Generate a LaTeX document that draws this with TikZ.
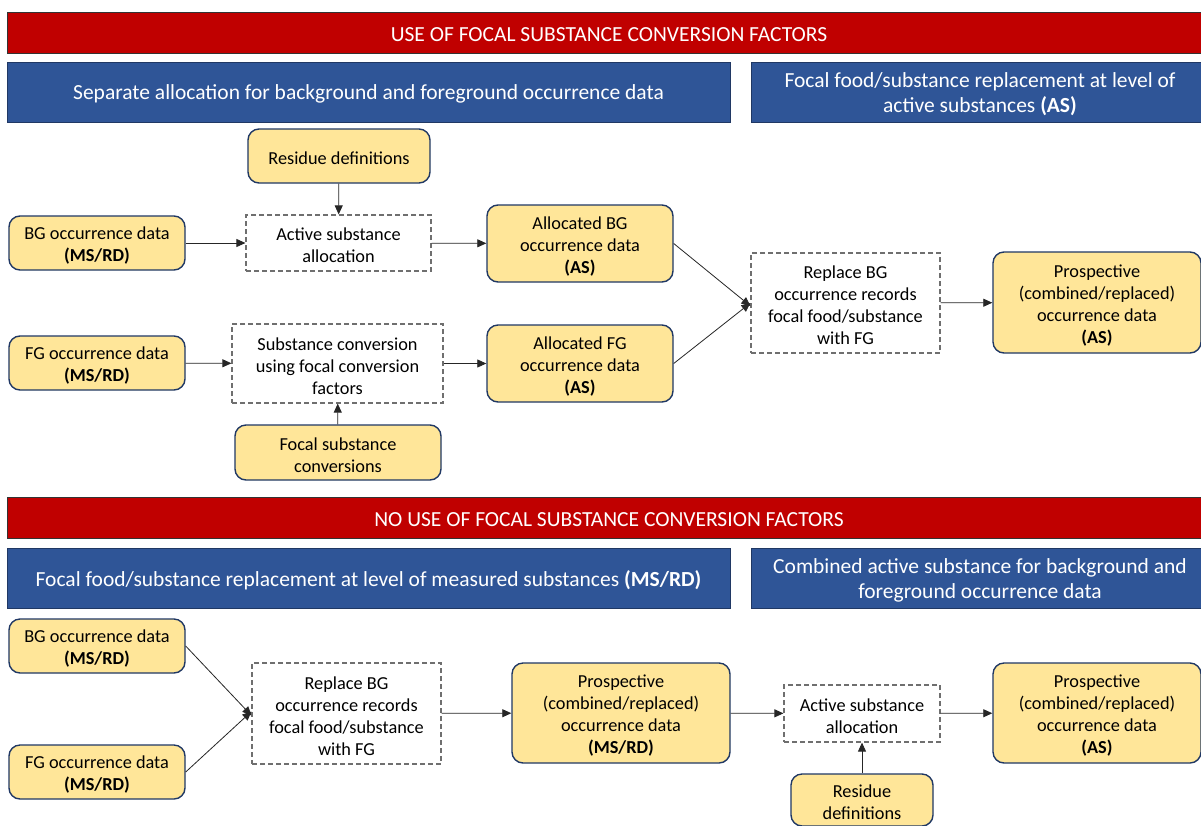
\documentclass[tikz,border=0pt]{standalone}
\usepackage{fontspec}
\setmainfont{Carlito}
\usetikzlibrary{arrows.meta}
\definecolor{barred}{HTML}{C00000}
\definecolor{barblue}{HTML}{2F5597}
\definecolor{boxfill}{HTML}{FFE699}
\definecolor{boxline}{HTML}{203864}
\definecolor{dashline}{HTML}{6F6F6F}
\definecolor{arrline}{HTML}{262626}
\newcommand{\fs}{\rule{0pt}{18pt}}
\newcommand{\hs}{\rule{0pt}{19.5pt}}
\begin{document}
\begin{tikzpicture}[x=1pt,y=-1pt,
  redbar/.style={draw=black!80,line width=0.8pt,fill=barred,text=white,inner sep=0pt,
    font=\fontsize{21.5}{25}\selectfont},
  bluebar/.style={draw=boxline,line width=0.8pt,fill=barblue,text=white,inner sep=0pt,align=center,
    font=\fontsize{21.5}{25}\selectfont},
  ybox/.style={draw=boxline,line width=1.4pt,fill=boxfill,rounded corners=11pt,align=center,inner sep=0pt,
    font=\fontsize{18.3}{22}\selectfont},
  dbox/.style={draw=dashline,line width=1.2pt,dash pattern=on 5pt off 3pt,fill=white,align=center,inner sep=0pt,
    font=\fontsize{18.3}{22}\selectfont},
  conn/.style={draw=arrline,line width=0.8pt,-{Triangle[length=9pt,width=8pt]}}
]
\useasboundingbox (0,0) rectangle (1201,825);
\fill[white] (0,0) rectangle (1201,825);

% ---------- top section ----------
\node[redbar,minimum width=1204pt,minimum height=41pt] (red1) at (609,32.5) {\fs USE OF FOCAL SUBSTANCE CONVERSION FACTORS};
\node[bluebar,minimum width=723pt,minimum height=60pt] (bl1) at (368.5,92) {\hs Separate allocation for background and foreground occurrence data};
\node[bluebar,minimum width=458pt,minimum height=60pt] (br1) at (980,92) {\hs Focal food/substance replacement at level of\\active substances \textbf{(AS)}};

\node[ybox,minimum width=182pt,minimum height=54pt] (res1) at (339,156) {\fs Residue definitions};
\node[ybox,minimum width=176pt,minimum height=54pt] (bg1) at (97,243) {\fs BG occurrence data\\\textbf{(MS/RD)}};
\node[dbox,minimum width=185pt,minimum height=56pt] (asa1) at (338.5,243) {\fs Active substance\\allocation};
\node[ybox,minimum width=186pt,minimum height=77pt] (abg) at (580,243.5) {\fs Allocated BG\\occurrence data\\\textbf{(AS)}};
\node[ybox,minimum width=176pt,minimum height=54pt] (fg1) at (97,363) {\fs FG occurrence data\\\textbf{(MS/RD)}};
\node[dbox,minimum width=211pt,minimum height=79pt] (sc) at (337.5,363.5) {\fs Substance conversion\\using focal conversion\\factors};
\node[ybox,minimum width=206pt,minimum height=55pt] (fsc) at (338,452.5) {\fs Focal substance\\conversions};
\node[ybox,minimum width=186pt,minimum height=77pt] (afg) at (580,363.5) {\fs Allocated FG\\occurrence data\\\textbf{(AS)}};
\node[dbox,minimum width=189pt,minimum height=100pt] (rep1) at (845.5,303) {\fs Replace BG\\occurrence records\\focal food/substance\\with FG};
\node[ybox,minimum width=208pt,minimum height=101pt] (pas1) at (1097,302.5) {\fs Prospective\\(combined/replaced)\\occurrence data\\\textbf{(AS)}};

\draw[conn] (res1) -- (asa1);
\draw[conn] (bg1) -- (asa1);
\draw[conn] (asa1) -- (abg);
\draw[conn] (fg1) -- (sc);
\draw[conn] (sc) -- (afg);
\draw[conn] (fsc) -- (sc);
\draw[conn] (abg.east) -- ([yshift=-3pt]rep1.west);
\draw[conn] (afg.east) -- ([yshift=0pt]rep1.west);
\draw[conn] (rep1) -- (pas1);

% ---------- bottom section ----------
\node[redbar,minimum width=1204pt,minimum height=41pt] (red2) at (609,517.5) {\fs NO USE OF FOCAL SUBSTANCE CONVERSION FACTORS};
\node[bluebar,minimum width=723pt,minimum height=60pt] (bl2) at (368.5,578) {\hs Focal food/substance replacement at level of measured substances \textbf{(MS/RD)}};
\node[bluebar,minimum width=458pt,minimum height=60pt] (br2) at (980,578) {\hs Combined active substance for background and\\foreground occurrence data};

\node[ybox,minimum width=176pt,minimum height=54pt] (bg2) at (97,646) {\fs BG occurrence data\\\textbf{(MS/RD)}};
\node[ybox,minimum width=176pt,minimum height=54pt] (fg2) at (97,772) {\fs FG occurrence data\\\textbf{(MS/RD)}};
\node[dbox,minimum width=189pt,minimum height=101pt] (rep2) at (346.5,713.5) {\fs Replace BG\\occurrence records\\focal food/substance\\with FG};
\node[ybox,minimum width=218pt,minimum height=100pt] (pms) at (621,713) {\fs Prospective\\(combined/replaced)\\occurrence data\\\textbf{(MS/RD)}};
\node[dbox,minimum width=156pt,minimum height=57pt] (asa2) at (862,713.5) {\fs Active substance\\allocation};
\node[ybox,minimum width=142pt,minimum height=52pt] (res2) at (862,800) {\fs Residue\\definitions};
\node[ybox,minimum width=208pt,minimum height=100pt] (pas2) at (1097,713) {\fs Prospective\\(combined/replaced)\\occurrence data\\\textbf{(AS)}};

\draw[conn] (bg2.east) -- ([yshift=-2pt]rep2.west);
\draw[conn] (fg2.east) -- ([yshift=2pt]rep2.west);
\draw[conn] (rep2) -- (pms);
\draw[conn] (pms) -- (asa2);
\draw[conn] (asa2) -- (pas2);
\draw[conn] (res2) -- (asa2);
\end{tikzpicture}
\end{document}
